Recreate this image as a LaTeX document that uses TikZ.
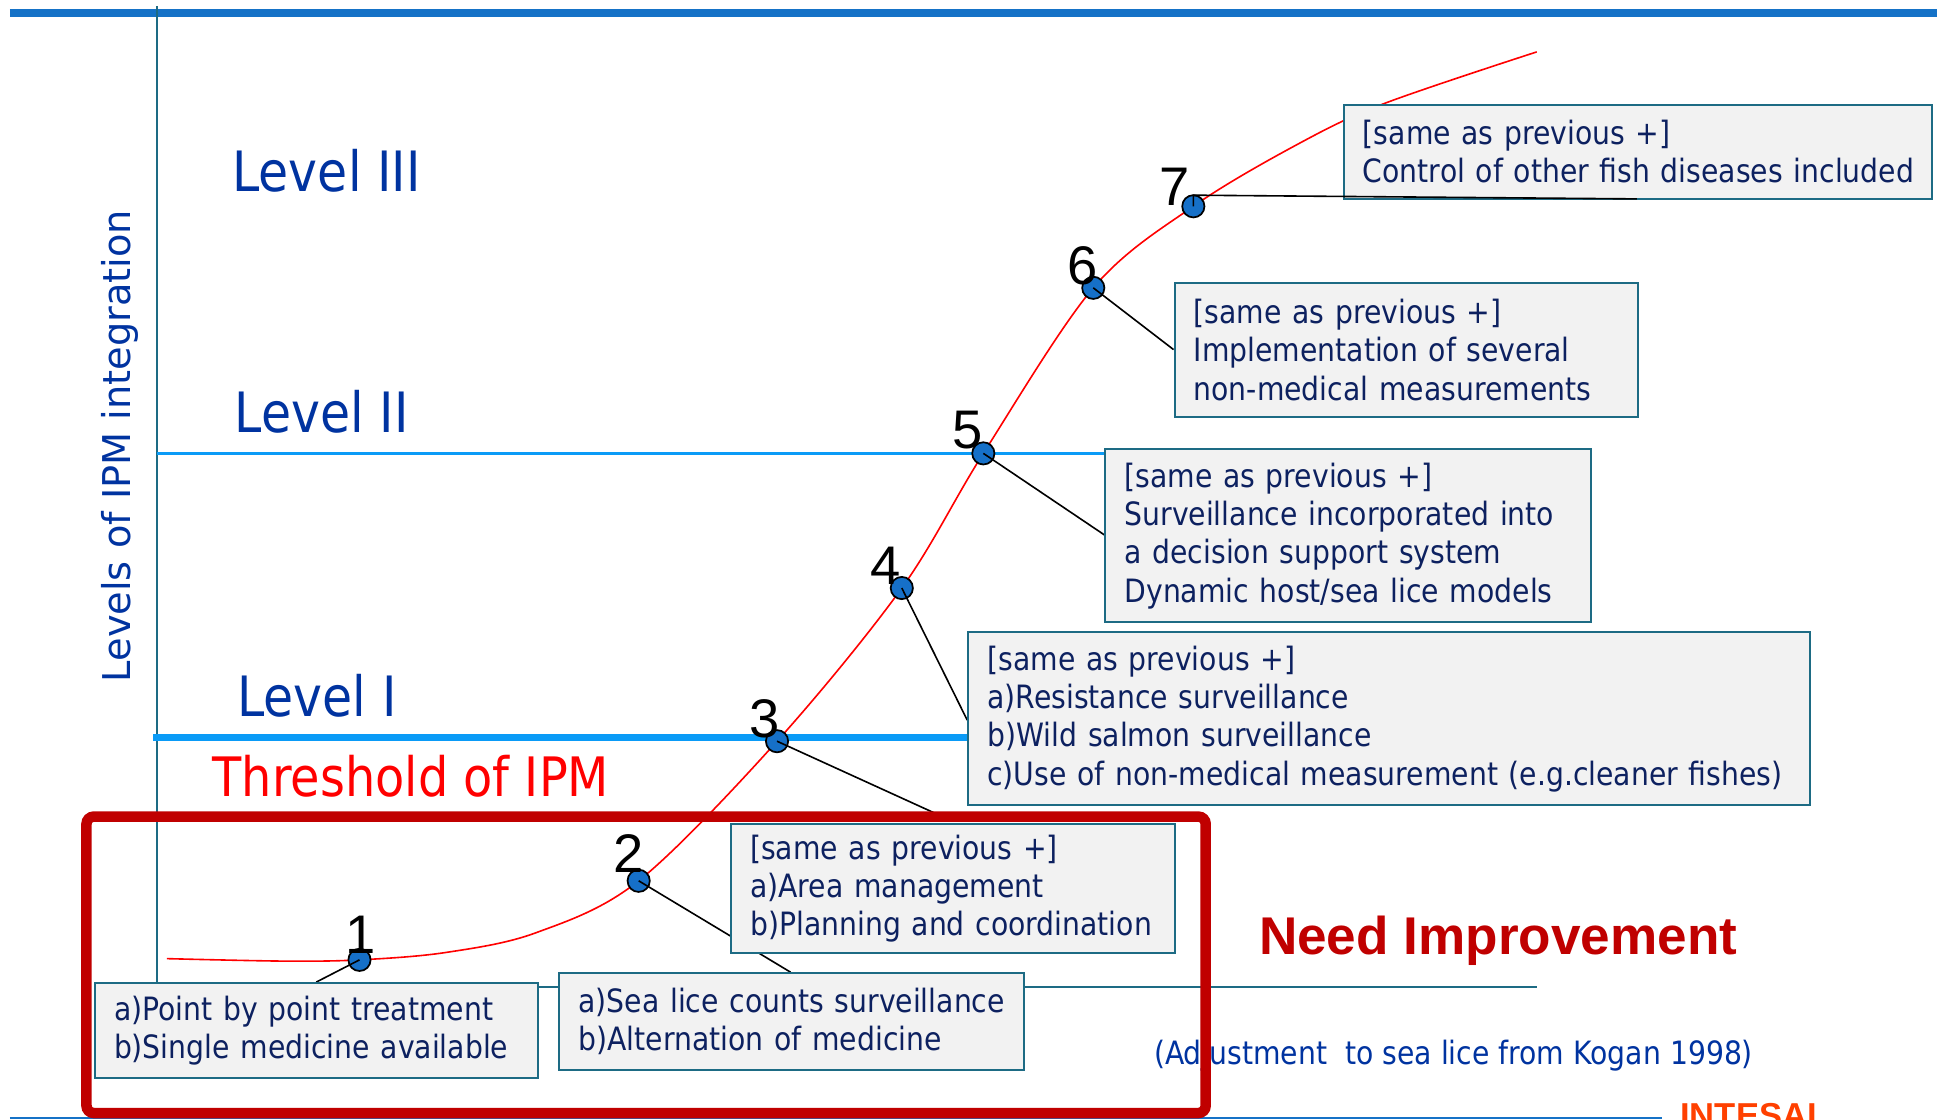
\documentclass[tikz,border=0pt]{standalone}
\usepackage{fontspec}
\newfontfamily\boxfont[FakeStretch=0.88]{DejaVu Sans}
\newfontfamily\axisfont{DejaVu Sans}
\newfontfamily\numfont{Liberation Sans}
\definecolor{topblue}{HTML}{1572C7}
\definecolor{lvlline}{HTML}{0A9BF7}
\definecolor{axisteal}{HTML}{1D6B84}
\definecolor{boxgray}{HTML}{F2F2F2}
\definecolor{boxtext}{HTML}{0D2160}
\definecolor{lvlblue}{HTML}{0033A0}
\definecolor{needred}{HTML}{C00000}
\definecolor{dotblue}{HTML}{1670C8}
\definecolor{intesal}{HTML}{FF4000}
\begin{document}
\begin{tikzpicture}[x=1pt,y=-1pt,
  box/.style={draw=axisteal, line width=1.6pt, fill=boxgray, anchor=north west, align=left,
    inner xsep=15.5pt, inner ysep=0pt, text=boxtext, font=\boxfont\fontsize{26}{31}\selectfont},
  dot/.style={circle, draw=black, line width=1.4pt, fill=dotblue, inner sep=0pt, minimum size=18pt},
  num/.style={anchor=base, inner sep=0pt, font=\numfont\fontsize{44}{44}\selectfont, text=black},
  leader/.style={draw=black, line width=1.3pt},
  lvl/.style={anchor=base west, inner sep=0pt, font=\boxfont\fontsize{45}{45}\selectfont, text=lvlblue}
]
\useasboundingbox[fill=white] (0,0) rectangle (1568,906);

% frame lines
\coordinate (tl) at (8,10.5);
\coordinate (tr) at (1568,10.5);
\draw[topblue, line width=6.5pt] (tl) -- (tr);
\coordinate (bl) at (8,905);
\coordinate (br) at (1345,905);
\draw[topblue, line width=2pt] (bl) -- (br);

% axes
\coordinate (ax0) at (127,5);
\coordinate (ax1) at (127,799);
\coordinate (xend) at (1244,799);
\draw[axisteal, line width=2pt] (ax0) -- (ax1) -- (xend);

% level lines
\coordinate (l2s) at (127,367);
\coordinate (l2e) at (894,367);
\draw[lvlline, line width=3pt] (l2s) -- (l2e);
\coordinate (l1s) at (124,597);
\coordinate (l1e) at (783,597);
\draw[lvlline, line width=5pt] (l1s) -- (l1e);

% curve
\draw[red, line width=1.3pt] plot[smooth, tension=0.55] coordinates {
  (135,776) (230,778) (291,777) (361,771) (434,755) (517,713) (629,600)
  (730,476) (796,367) (885,233) (966,167) (1050,117) (1120,84) (1244,42)};

% dots
\node[dot] (p1) at (291,777) {};
\node[dot] (p2) at (517,713) {};
\node[dot] (p3) at (629,600) {};
\node[dot] (p4) at (730,476) {};
\node[dot] (p5) at (796,367) {};
\node[dot] (p6) at (885,233) {};
\node[dot] (p7) at (966,167) {};

% numbers
\node[num] (n1) at (292,772) {1};
\node[num] (n2) at (509,706) {2};
\node[num] (n3) at (619,597) {3};
\node[num] (n4) at (717,473) {4};
\node[num] (n5) at (783,363) {5};
\node[num] (n6) at (876,230) {6};
\node[num] (n7) at (951,166) {7};

% leader ends
\coordinate (c1) at (256,795);
\coordinate (c2) at (640,787);
\coordinate (c3) at (765,662);
\coordinate (c4) at (783,583);
\coordinate (c5) at (894,433);
\coordinate (c6) at (950,283);
\coordinate (c7s) at (966,158);
\coordinate (c7) at (1325,161);
\draw[leader] (p1.center) -- (c1);
\draw[leader] (p2.center) -- (c2);
\draw[leader] (p3.center) -- (c3);
\draw[leader] (p4.center) -- (c4);
\draw[leader] (p5.center) -- (c5);
\draw[leader] (p6.center) -- (c6);

% boxes
\node[box, text width=328pt, minimum height=77pt] (b1) at (76,795)
  {\mbox{a)Point by point treatment}\\\mbox{b)Single medicine available}};
\node[box, text width=345pt, minimum height=78pt] (b2) at (452,787)
  {\mbox{a)Sea lice counts surveillance}\\\mbox{b)Alternation of medicine}};
\node[box, text width=328pt, minimum height=105pt] (b3) at (591,666)
  {\mbox{[same as previous +]}\\\mbox{a)Area management}\\\mbox{b)Planning and coordination}};
\node[box, text width=650pt, minimum height=140pt] (b4) at (783,511)
  {\mbox{[same as previous +]}\\\mbox{a)Resistance surveillance}\\\mbox{b)Wild salmon surveillance}\\\mbox{c)Use of non-medical measurement (e.g.cleaner fishes)}};
\node[box, text width=362pt, minimum height=140pt] (b5) at (894,363)
  {\mbox{[same as previous +]}\\\mbox{Surveillance incorporated into}\\\mbox{a decision support system}\\\mbox{Dynamic host/sea lice models}};
\node[box, text width=344pt, minimum height=109pt] (b6) at (950,228)
  {\mbox{[same as previous +]}\\\mbox{Implementation of several}\\\mbox{non-medical measurements}};
\node[box, text width=445pt, minimum height=76pt] (b7) at (1087,84)
  {\mbox{[same as previous +]}\\\mbox{Control of other fish diseases included}};
\draw[leader] (p7.center) -- (c7s) -- (c7);

% labels
\node[lvl] (lv3) at (188,155) {Level III};
\node[lvl] (lv2) at (190,350) {Level II};
\node[lvl] (lv1) at (192,580) {Level I};
\node[anchor=base west, inner sep=0pt, font=\boxfont\fontsize{44}{44}\selectfont, text=red] (thr) at (172,645) {Threshold of IPM};
\node[anchor=base, rotate=90, inner sep=0pt, font=\axisfont\fontsize{31}{31}\selectfont, text=lvlblue] (ylab) at (106,361) {Levels of IPM integration};
\node[anchor=base west, inner sep=0pt, font=\numfont\bfseries\fontsize{43}{43}\selectfont, text=needred] (need) at (1019,773) {Need Improvement};
\node[anchor=base west, inner sep=0pt, font=\boxfont\fontsize{26}{26}\selectfont, text=lvlblue] (src) at (934,862) {(Adjustment~ to sea lice from Kogan 1998)};
\node[anchor=base west, inner sep=0pt, font=\numfont\bfseries\fontsize{28}{28}\selectfont, text=intesal] (ints) at (1360,913) {INTESAL};

% highlight frame
\coordinate (rr1) at (70,661);
\coordinate (rr2) at (976,901);
\draw[needred, line width=8.5pt, rounded corners=6pt] (rr1) rectangle (rr2);
\end{tikzpicture}
\end{document}
